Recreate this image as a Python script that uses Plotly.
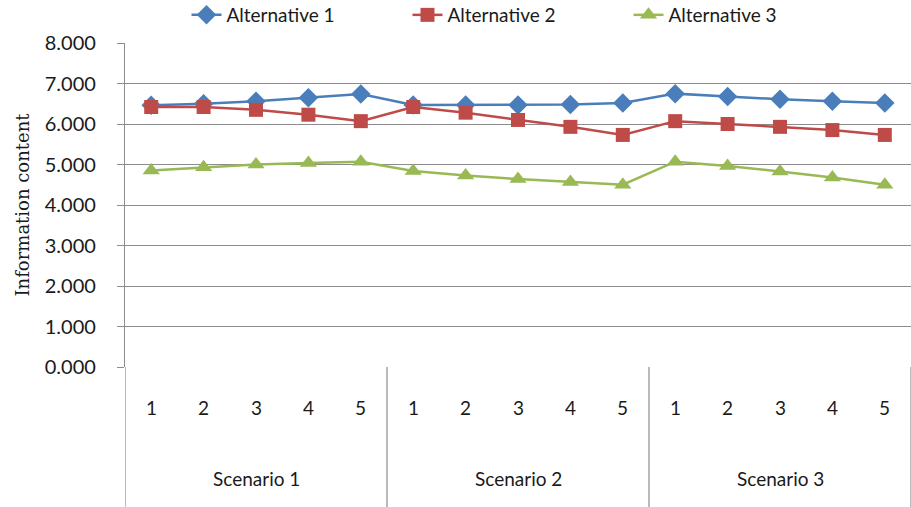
import plotly.graph_objects as go

# Category structure of the x axis
scenarios = ["Scenario 1", "Scenario 2", "Scenario 3"]
runs = ["1", "2", "3", "4", "5"]

# Information content for each alternative, 5 runs per scenario
alt1 = [6.46, 6.50, 6.56, 6.65, 6.74, 6.47, 6.47, 6.47, 6.48, 6.52, 6.75, 6.68, 6.61, 6.56, 6.52]
alt2 = [6.42, 6.42, 6.35, 6.23, 6.07, 6.42, 6.28, 6.10, 5.93, 5.73, 6.07, 6.00, 5.93, 5.85, 5.73]
alt3 = [4.85, 4.93, 5.00, 5.04, 5.07, 4.84, 4.73, 4.64, 4.57, 4.50, 5.07, 4.96, 4.83, 4.68, 4.50]

series_names = ["Alternative 1", "Alternative 2", "Alternative 3"]
series_colors = ["#4A7EBB", "#BE4B48", "#98B954"]
series_symbols = ["diamond", "square", "triangle-up"]
series_sizes = [15, 14, 15]

y_ticks = [0, 1, 2, 3, 4, 5, 6, 7, 8]

W, H = 911, 507
M_L, M_R, M_T, M_B = 125, 0, 43, 140
plot_h = H - M_T - M_B

grid_color = "#8C8C8C"
text_color = "#1A1A1A"
sans = "Lato, 'Open Sans', sans-serif"

x_idx = list(range(len(scenarios) * len(runs)))

fig = go.Figure()
for name, vals, col, sym, sz in zip(series_names, [alt1, alt2, alt3],
                                    series_colors, series_symbols, series_sizes):
    fig.add_trace(go.Scatter(
        x=x_idx, y=vals, name=name, mode="lines+markers",
        line=dict(color=col, width=2.5),
        marker=dict(symbol=sym, size=sz, color=col, line=dict(width=0)),
    ))

# run numbers and scenario names below the axis
def paper_y(px_below_axis):
    return -px_below_axis / plot_h

annotations = []
for g, scen in enumerate(scenarios):
    for r, lab in enumerate(runs):
        annotations.append(dict(
            x=g * len(runs) + r, y=paper_y(41), xref="x", yref="paper",
            text=lab, showarrow=False, font=dict(family=sans, size=19, color=text_color),
            xanchor="center", yanchor="middle"))
    annotations.append(dict(
        x=g * len(runs) + (len(runs) - 1) / 2, y=paper_y(111), xref="x", yref="paper",
        text=scen, showarrow=False, font=dict(family=sans, size=19, color=text_color),
        xanchor="center", yanchor="middle"))

# group dividers below the axis
shapes = []
for g in range(len(scenarios) + 1):
    xb = g * len(runs) - 0.5
    shapes.append(dict(type="line", xref="x", yref="paper",
                       x0=xb, x1=xb, y0=0, y1=paper_y(160),
                       line=dict(color=grid_color, width=1.2)))

fig.update_layout(
    width=W, height=H,
    margin=dict(l=M_L, r=M_R, t=M_T, b=M_B, autoexpand=False),
    paper_bgcolor="white", plot_bgcolor="white",
    showlegend=True,
    legend=dict(orientation="h", x=0.5, xanchor="center",
                y=1 + 28 / plot_h, yanchor="middle",
                font=dict(family=sans, size=19, color=text_color),
                entrywidth=176, entrywidthmode="pixels",
                tracegroupgap=0),
    xaxis=dict(range=[-0.5, len(x_idx) - 0.5], showgrid=False, zeroline=False,
               showticklabels=False, ticks="", showline=False, fixedrange=True),
    yaxis=dict(range=[0, 8], tickvals=y_ticks, tickformat=".3f",
               showgrid=True, gridcolor=grid_color, gridwidth=1,
               zeroline=False, showline=True, linecolor=grid_color, linewidth=1.2,
               ticks="outside", ticklen=7, tickcolor=grid_color, tickwidth=1,
               ticklabelstandoff=17,
               tickfont=dict(family=sans, size=20, color=text_color),
               title=dict(text="Information content", standoff=10,
                          font=dict(family="'DejaVu Serif', serif",
                                    size=18, color=text_color))),
    annotations=annotations,
    shapes=shapes,
)

fig.write_html("out.html")
